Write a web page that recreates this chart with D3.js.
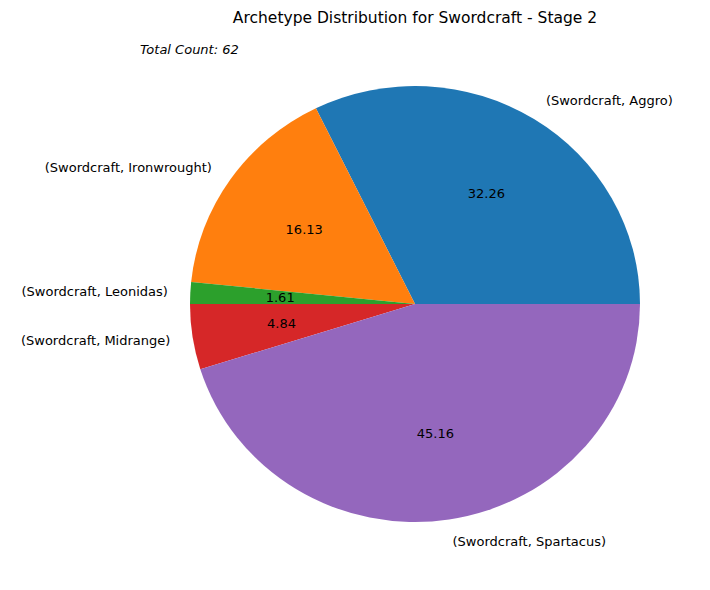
<!DOCTYPE html>
<html><head><meta charset="utf-8">
<script src="https://cdn.jsdelivr.net/npm/d3@7"></script>
<style>body{margin:0;background:#fff}text{font-family:"DejaVu Sans",sans-serif;font-size:13px;fill:#000}</style>
</head><body>
<svg width="710" height="590"></svg>
<script>
// data
var labels = ["(Swordcraft, Aggro)", "(Swordcraft, Ironwrought)", "(Swordcraft, Leonidas)", "(Swordcraft, Midrange)", "(Swordcraft, Spartacus)"];
var counts = [20, 10, 1, 3, 28];
var colors = ["#1f77b4", "#ff7f0e", "#2ca02c", "#d62728", "#9467bd"];
var total = d3.sum(counts);

var svg = d3.select("svg");
var cx = 415, cy = 304, rx = 225, ry = 218;

svg.append("text").attr("x", 415).attr("y", 23).attr("text-anchor", "middle")
  .style("font-size", "15.5px").text("Archetype Distribution for Swordcraft - Stage 2");
svg.append("text").attr("x", 140).attr("y", 54).style("font-style", "italic").text("Total Count: " + total);

//matplotlib starts at 3 o'clock and goes counterclockwise
var pie = d3.pie().sort(null).startAngle(Math.PI / 2).endAngle(Math.PI / 2 - 2 * Math.PI);
var arcs = pie(counts);
var arc = d3.arc().innerRadius(0).outerRadius(rx);

var g = svg.append("g").attr("transform", "translate(" + cx + "," + cy + ")");
g.append("g").attr("transform", "scale(1," + (ry / rx) + ")")
  .selectAll("path").data(arcs).enter().append("path")
  .attr("d", arc).attr("fill", function(d, i) { return colors[i]; });

function pos(d, f) {
  var a = (d.startAngle + d.endAngle) / 2;
  return [Math.sin(a) * rx * f, -Math.cos(a) * ry * f];
}

g.selectAll("text.pct").data(arcs).enter().append("text")
  .attr("x", function(d) { return pos(d, 0.6)[0]; })
  .attr("y", function(d) { return pos(d, 0.6)[1]; })
  .attr("dy", "0.35em").attr("text-anchor", "middle")
  .text(function(d) { return (d.value / total * 100).toFixed(2); });

g.selectAll("text.lab").data(arcs).enter().append("text")
  .attr("x", function(d) { return pos(d, 1.1)[0]; })
  .attr("y", function(d) { return pos(d, 1.1)[1]; })
  .attr("dy", "0.35em")
  .attr("text-anchor", function(d) { return pos(d, 1)[0] < 0 ? "end" : "start"; })
  .text(function(d, i) { return labels[i]; });
</script>
</body></html>
